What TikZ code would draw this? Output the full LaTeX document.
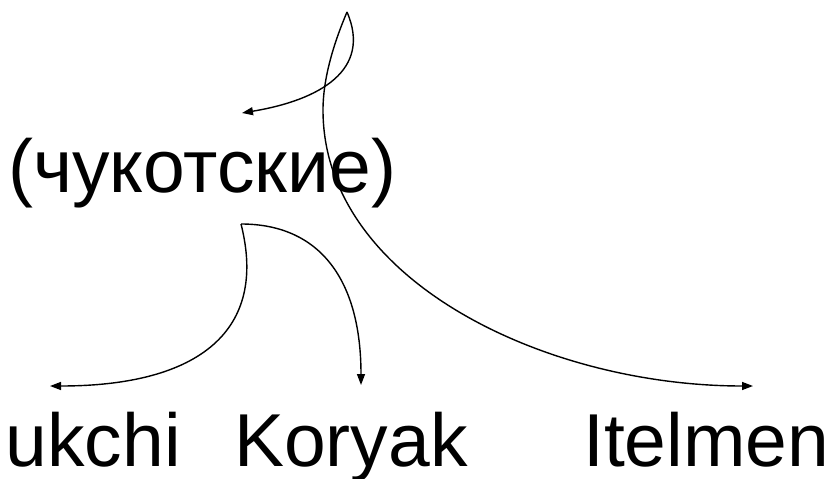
\documentclass[tikz,border=0pt]{standalone}
\usepackage{fontspec}
\setmainfont{Liberation Sans}
\usetikzlibrary{arrows.meta}
\begin{document}
\begin{tikzpicture}[x=1pt,y=-1pt,
  lbl/.style={inner sep=0pt,font=\fontsize{75}{90}\selectfont},
  conn/.style={line width=1.4pt,-{Triangle[length=11pt,width=8pt]}}]
\useasboundingbox (0,0) rectangle (830,479);
\clip (0,0) rectangle (830,479);
\node[lbl,anchor=base west] (chuk) at (8,192) {(чукотские)};
\node[lbl,anchor=base east] (chukchi) at (181,466) {Chukchi};
\node[lbl,anchor=base west] (koryak) at (234,466) {Koryak};
\node[lbl,anchor=base west] (itelmen) at (583,466) {Itelmen};
\coordinate (top) at (347,12);
\coordinate (bend) at (323,110);
\coordinate (chukin) at (242,113);
\coordinate (chukout) at (241,224);
\coordinate (chukchiin) at (50,386);
\coordinate (koryakin) at (361,385);
\coordinate (itelmenin) at (753,386);
\draw[conn] (top) .. controls (372,70) and (320,100) .. (chukin);
\draw[conn] (top) .. controls (336,38) and (323,75) .. (bend)
  .. controls (323,280) and (545,386) .. (itelmenin);
\draw[conn] (chukout) .. controls (268,330) and (200,386) .. (chukchiin);
\draw[conn] (chukout) .. controls (320,224) and (361,280) .. (koryakin);
\end{tikzpicture}
\end{document}
